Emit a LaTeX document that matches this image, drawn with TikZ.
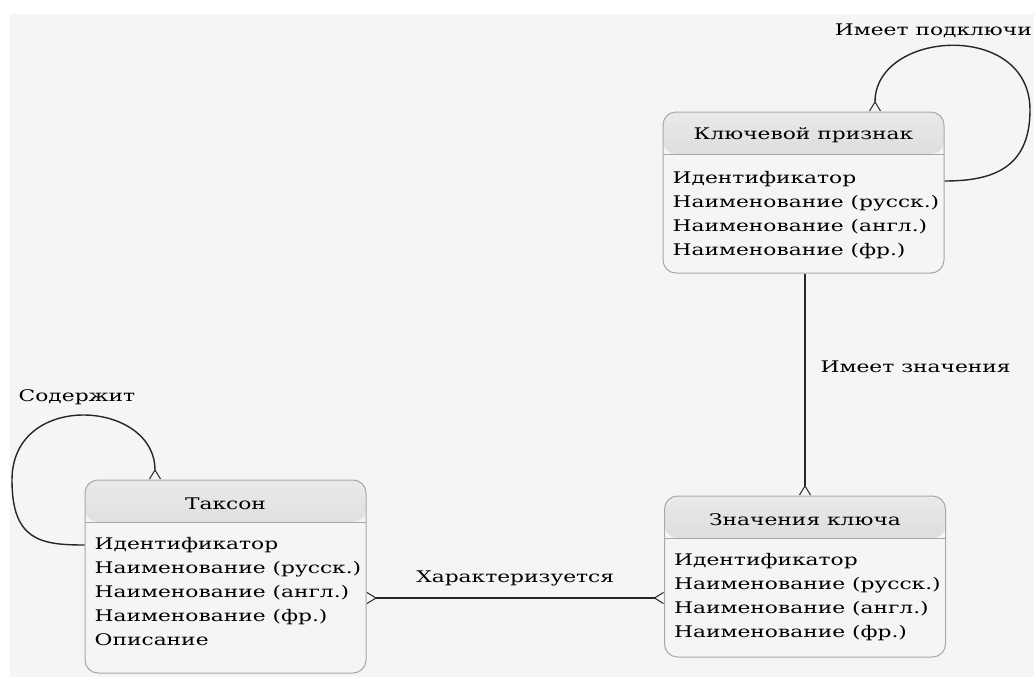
\documentclass[tikz,border=0pt]{standalone}
\usepackage{fontspec}
\setmainfont[FakeStretch=1.36]{DejaVu Serif}
\usetikzlibrary{arrows.meta}
\definecolor{bggray}{HTML}{F5F5F5}
\definecolor{boxline}{HTML}{A8A8A8}
\definecolor{headtop}{HTML}{EAEAEA}
\definecolor{headbot}{HTML}{B8B8B8}
\begin{document}
\begin{tikzpicture}[x=1pt, y=-1pt, font=\fontsize{16}{24}\selectfont,
	crow/.tip={Straight Barb[reversed, length=9pt, width=11pt, line width=1pt]},
	entity/.style={draw=boxline, line width=1pt, rounded corners=13pt, fill=bggray,
		minimum width=281pt, inner sep=0pt,
		path picture={\shade[top color=headtop, bottom color=headbot]
			(path picture bounding box.north west) rectangle ([yshift=-42pt]path picture bounding box.north east);
			\draw[boxline] ([yshift=-42pt]path picture bounding box.north west) -- ([yshift=-42pt]path picture bounding box.north east);}},
	title/.style={inner sep=0pt, text=black},
	attrs/.style={inner sep=0pt, align=left, anchor=north west, text=black},
	rel/.style={line width=1.4pt, black!85},
	rlabel/.style={text=black, inner sep=0pt}]
	\useasboundingbox (0,0) rectangle (1034,678);
	\fill[white] (0,0) rectangle (1034,678);
	\fill[bggray] (10,14) rectangle (1034,677);
	% entities
	\node[entity, minimum height=161pt] (kp) at (803.5,192.5) {};
	\node[title] (kp-t) at ([yshift=-24]kp.north) {Ключевой признак};
	\node[attrs] (kp-a) at ([xshift=10, yshift=-60]kp.north west)
		{Идентификатор\\Наименование (русск.)\\Наименование (англ.)\\Наименование (фр.)};
	\node[entity, minimum height=193pt] (takson) at (225.5,576.5) {};
	\node[title] (takson-t) at ([yshift=-24]takson.north) {Таксон};
	\node[attrs] (takson-a) at ([xshift=10, yshift=-58]takson.north west)
		{Идентификатор\\Наименование (русск.)\\Наименование (англ.)\\Наименование (фр.)\\Описание};
	\node[entity, minimum height=161pt] (znach) at (805,576.5) {};
	\node[title] (znach-t) at ([yshift=-24]znach.north) {Значения ключа};
	\node[attrs] (znach-a) at ([xshift=10, yshift=-58]znach.north west)
		{Идентификатор\\Наименование (русск.)\\Наименование (англ.)\\Наименование (фр.)};
	% relations
	\draw[rel, crow-crow] ([yshift=-21.5]takson.east) -- ([yshift=-21.5]znach.west)
		node[rlabel, midway, above=11pt] (rel1) {Характеризуется};
	\draw[rel, -crow] (kp.south -| znach.north) -- (znach.north)
		node[rlabel, pos=0.42, right=15pt] (rel2) {Имеет значения};
	\draw[rel, crow-] ([xshift=71.5]kp.north) .. controls (875,30) and (1030,20) .. (1030,110)
		.. controls (1030,170) and (990,181) .. ([yshift=11.5]kp.east);
	\node[rlabel, anchor=east] (rel3) at (1032,31) {Имеет подключи};
	\draw[rel, crow-] ([xshift=-70.5]takson.north) .. controls (155,400) and (12,390) .. (12,480)
		.. controls (12,540) and (40,545) .. ([yshift=31.5]takson.west);
	\node[rlabel] (rel4) at (77,397) {Содержит};
\end{tikzpicture}
\end{document}
